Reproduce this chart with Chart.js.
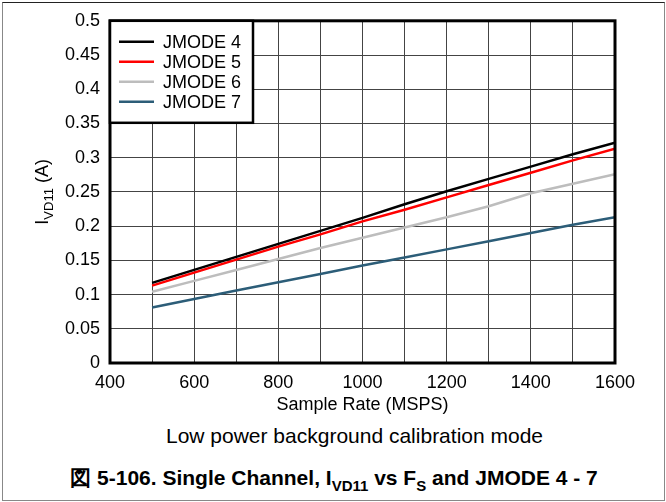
<!DOCTYPE html>
<html>
<head>
<meta charset="utf-8">
<script src="https://cdn.jsdelivr.net/npm/chart.js@4.4.0/dist/chart.umd.min.js"></script>
<style>
  body { margin: 0; background: #fff; font-family: "Liberation Sans", Arial, sans-serif; }
  #frame { position: absolute; left: 2px; top: 2px; width: 663px; height: 499px; box-sizing: border-box;
           border: 1px solid #888; border-top-color: #222; }
  #wrap { position: absolute; left: 0; top: 0; width: 666px; height: 420px; }
  .cap { position: absolute; text-align: center; color: #000; white-space: nowrap; }
  #cap1 { top: 424px; left: 0; width: 709px; font-size: 21px; }
  #cap2 { top: 464px; left: 0; width: 668px; font-size: 21px; font-weight: bold; }
  sub { font-size: 15px; vertical-align: -6px; line-height: 0; }
</style>
</head>
<body>
<div id="frame"></div>
<div id="wrap"><canvas id="grafico" width="666" height="420"></canvas></div>
<div class="cap" id="cap1">Low power background calibration mode</div>
<div class="cap" id="cap2">図 5-106. Single Channel, I<sub>VD11</sub> vs F<sub>S</sub> and JMODE 4 - 7</div>
<script>
// Datos
const sampleRates = [500, 600, 700, 800, 900, 1000, 1100, 1200, 1300, 1400, 1500, 1600];
const jmode4 = [0.117, 0.136, 0.155, 0.174, 0.193, 0.212, 0.232, 0.251, 0.269, 0.287, 0.305, 0.322];
const jmode5 = [0.113, 0.132, 0.151, 0.170, 0.188, 0.207, 0.224, 0.242, 0.260, 0.278, 0.296, 0.313];
const jmode6 = [0.104, 0.120, 0.136, 0.152, 0.168, 0.183, 0.198, 0.213, 0.229, 0.248, 0.262, 0.276];
const jmode7 = [0.081, 0.0935, 0.106, 0.118, 0.130, 0.1425, 0.154, 0.166, 0.178, 0.190, 0.202, 0.213];
const seriesNames = ['JMODE 4', 'JMODE 5', 'JMODE 6', 'JMODE 7'];
const seriesColors = ['#000000', '#ff0000', '#bdbdbd', '#2c5d78'];
const xTickLabels = [400, 600, 800, 1000, 1200, 1400, 1600];
const yTickLabels = ['0', '0.05', '0.1', '0.15', '0.2', '0.25', '0.3', '0.35', '0.4', '0.45', '0.5'];

const fuente = "'Liberation Sans', Arial, sans-serif";

function puntos(valores) {
  return sampleRates.map((x, i) => ({ x: x, y: valores[i] }));
}

// Marco grueso, leyenda y título del eje Y
const extras = {
  id: 'extras',
  afterDraw(chart) {
    const ctx = chart.ctx;
    const a = chart.chartArea;
    ctx.save();
    ctx.strokeStyle = '#000';
    ctx.lineWidth = 3;
    ctx.strokeRect(a.left, a.top, a.right - a.left, a.bottom - a.top);

    // leyenda
    const lx = a.left, ly = a.top, lw = 143, lh = 102;
    ctx.fillStyle = '#fff';
    ctx.fillRect(lx, ly, lw, lh);
    ctx.lineWidth = 2.5;
    ctx.strokeRect(lx, ly, lw, lh);
    ctx.font = '18px ' + fuente;
    ctx.textBaseline = 'middle';
    chart.data.datasets.forEach((ds, i) => {
      const y = ly + 21 + i * 20;
      ctx.strokeStyle = ds.borderColor;
      ctx.lineWidth = 2.5;
      ctx.beginPath();
      ctx.moveTo(lx + 9, y);
      ctx.lineTo(lx + 44, y);
      ctx.stroke();
      ctx.fillStyle = '#000';
      ctx.fillText(ds.label, lx + 53, y + 1);
    });

    // título eje Y con subíndice
    ctx.translate(42, (a.top + a.bottom) / 2);
    ctx.rotate(-Math.PI / 2);
    ctx.fillStyle = '#000';
    ctx.textBaseline = 'alphabetic';
    const partes = [['I', '18px', 0], ['VD11', '13px', 5], [' (A)', '18px', 0]];
    let total = 0;
    partes.forEach(p => { ctx.font = p[1] + ' ' + fuente; total += ctx.measureText(p[0]).width; });
    let x = -total / 2;
    partes.forEach(p => {
      ctx.font = p[1] + ' ' + fuente;
      ctx.fillText(p[0], x, 6 + p[2]);
      x += ctx.measureText(p[0]).width;
    });
    ctx.restore();
  }
};

new Chart(document.getElementById('grafico').getContext('2d'), {
  type: 'line',
  data: {
    datasets: [jmode4, jmode5, jmode6, jmode7].map((valores, i) => ({
      label: seriesNames[i],
      data: puntos(valores),
      borderColor: seriesColors[i],
      backgroundColor: seriesColors[i],
      borderWidth: 2.5,
      pointRadius: 0,
      tension: 0,
      fill: false
    }))
  },
  options: {
    responsive: false,
    animation: false,
    layout: { padding: { top: 20, right: 51, left: 0, bottom: 0 } },
    plugins: {
      legend: { display: false },
      tooltip: { enabled: false }
    },
    scales: {
      x: {
        type: 'linear',
        min: 400,
        max: 1600,
        afterFit: s => { s.height = 57; },
        afterBuildTicks: s => {
          s.ticks = [];
          for (let v = 400; v <= 1600; v += 100) s.ticks.push({ value: v });
        },
        ticks: {
          autoSkip: false,
          maxRotation: 0,
          padding: 9,
          color: '#000',
          font: { family: fuente, size: 18 },
          callback: v => xTickLabels.includes(v) ? String(v) : ''
        },
        grid: { color: '#444', lineWidth: 1, drawTicks: false },
        border: { display: false },
        title: {
          display: true,
          text: 'Sample Rate (MSPS)',
          color: '#000',
          font: { family: fuente, size: 18 },
          padding: { top: 0, bottom: 4 }
        }
      },
      y: {
        min: 0,
        max: 0.5,
        afterFit: s => { s.width = 110; },
        afterBuildTicks: s => {
          s.ticks = yTickLabels.map(t => ({ value: parseFloat(t) }));
        },
        ticks: {
          padding: 10,
          color: '#000',
          font: { family: fuente, size: 18 },
          callback: (v, i) => yTickLabels[i]
        },
        grid: { color: '#444', lineWidth: 1, drawTicks: false },
        border: { display: false }
      }
    }
  },
  plugins: [extras]
});
</script>
</body>
</html>
